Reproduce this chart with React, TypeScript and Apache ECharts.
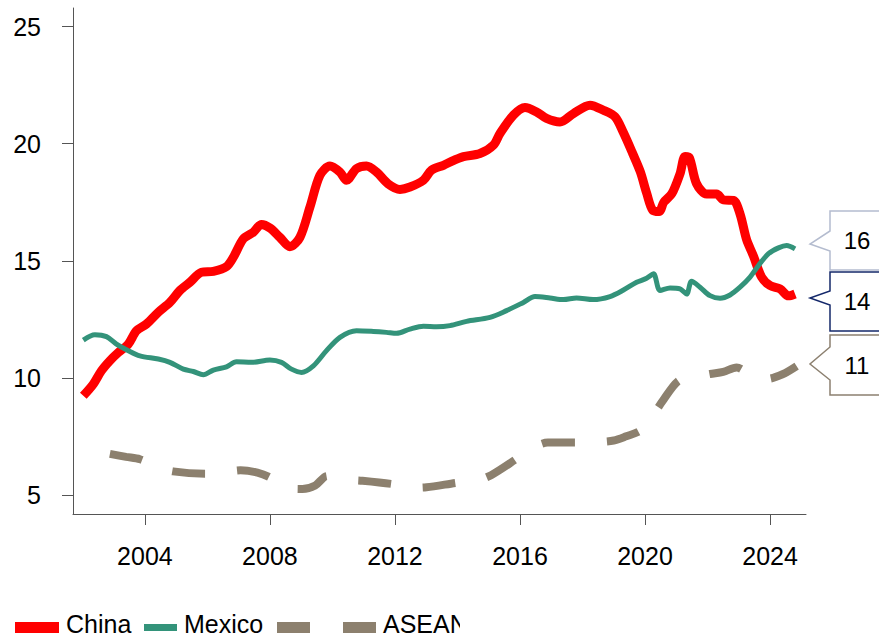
import React, { useEffect, useRef } from "react";
import * as echarts from "echarts";

const xTicks = [2004, 2008, 2012, 2016, 2020, 2024];
const yTicks = [5, 10, 15, 20, 25];

const china: [number, number][] = [
  [2002.03, 9.23], [2002.35, 9.73], [2002.61, 10.3], [2002.88, 10.73], [2003.15, 11.08],
  [2003.47, 11.44], [2003.73, 12.01], [2004.05, 12.3], [2004.43, 12.8], [2004.8, 13.22],
  [2005.12, 13.73], [2005.44, 14.08], [2005.81, 14.51], [2006.19, 14.55], [2006.61, 14.75],
  [2006.83, 15.15], [2007.15, 15.94], [2007.47, 16.22], [2007.73, 16.55], [2008.0, 16.4],
  [2008.32, 16.0], [2008.64, 15.6], [2008.96, 16.0], [2009.28, 17.29], [2009.6, 18.65],
  [2009.92, 19.05], [2010.24, 18.79], [2010.45, 18.44], [2010.77, 18.94], [2011.09, 19.05],
  [2011.41, 18.79], [2011.78, 18.29], [2012.16, 18.05], [2012.48, 18.15], [2012.91, 18.44],
  [2013.17, 18.87], [2013.55, 19.08], [2013.9, 19.3], [2014.19, 19.45], [2014.72, 19.58],
  [2015.15, 19.94], [2015.36, 20.44], [2015.79, 21.22], [2016.16, 21.55], [2016.53, 21.36],
  [2016.85, 21.08], [2017.28, 20.93], [2017.71, 21.29], [2018.24, 21.65], [2018.67, 21.43],
  [2019.04, 21.15], [2019.3, 20.5], [2019.6, 19.6], [2019.85, 18.8], [2020.05, 17.9],
  [2020.25, 17.15], [2020.45, 17.1], [2020.6, 17.5], [2020.86, 17.87], [2021.12, 18.72],
  [2021.28, 19.45], [2021.42, 19.4], [2021.65, 18.29], [2021.97, 17.85], [2022.29, 17.85],
  [2022.51, 17.6], [2022.83, 17.58], [2023.04, 17.0], [2023.25, 15.9], [2023.47, 15.2],
  [2023.73, 14.3], [2024.0, 13.94], [2024.32, 13.8], [2024.59, 13.5], [2024.8, 13.58],
];

const mexico: [number, number][] = [
  [2002.03, 11.61], [2002.4, 11.84], [2002.77, 11.76], [2003.09, 11.44], [2003.47, 11.16],
  [2003.84, 10.94], [2004.43, 10.8], [2004.8, 10.66], [2005.23, 10.37], [2005.55, 10.27],
  [2005.87, 10.13], [2006.19, 10.33], [2006.61, 10.47], [2006.93, 10.69], [2007.41, 10.66],
  [2008.0, 10.76], [2008.37, 10.66], [2008.69, 10.37], [2009.01, 10.23], [2009.39, 10.51],
  [2009.81, 11.16], [2010.24, 11.73], [2010.77, 12.01], [2011.31, 11.98], [2011.73, 11.94],
  [2012.05, 11.9], [2012.48, 12.08], [2012.91, 12.2], [2013.33, 12.18], [2013.76, 12.23],
  [2014.29, 12.41], [2015.04, 12.58], [2015.57, 12.87], [2016.11, 13.22], [2016.48, 13.47],
  [2016.96, 13.41], [2017.39, 13.34], [2017.81, 13.41], [2018.34, 13.34], [2018.88, 13.47],
  [2019.31, 13.75], [2019.73, 14.08], [2020.05, 14.25], [2020.27, 14.44], [2020.48, 13.73],
  [2020.8, 13.84], [2021.12, 13.8], [2021.33, 13.58], [2021.49, 14.12], [2021.76, 13.87],
  [2022.08, 13.51], [2022.4, 13.4], [2022.72, 13.54], [2023.04, 13.87], [2023.36, 14.3],
  [2023.63, 14.8], [2023.95, 15.3], [2024.27, 15.55], [2024.53, 15.65], [2024.8, 15.51],
];

const asean: [number, number][] = [
  [2002.88, 6.75], [2003.4, 6.62], [2003.84, 6.52], [2004.4, 6.2], [2004.9, 6.0],
  [2005.93, 5.9], [2006.5, 5.95], [2007.06, 6.05], [2007.6, 5.95], [2007.99, 5.75],
  [2008.5, 5.3], [2009.04, 5.25], [2009.45, 5.4], [2009.83, 5.8], [2010.4, 5.65],
  [2010.96, 5.6], [2011.97, 5.45], [2012.5, 5.3], [2013.01, 5.32], [2014.0, 5.52],
  [2014.6, 5.6], [2015.09, 5.85], [2015.87, 6.52], [2016.4, 7.0], [2016.89, 7.23],
  [2017.86, 7.23], [2018.4, 7.25], [2019.0, 7.32], [2019.4, 7.5], [2019.86, 7.75],
  [2020.2, 8.3], [2020.56, 9.0], [2021.05, 9.85], [2021.5, 10.0], [2022.08, 10.16],
  [2022.5, 10.25], [2022.93, 10.44], [2023.4, 10.1], [2023.9, 9.95], [2024.4, 10.15],
  [2024.85, 10.5],
];

const callouts = [
  { label: "16", color: "#b4bccf" },
  { label: "14", color: "#14286a" },
  { label: "11", color: "#8c8070" },
];

const FONT = '"Liberation Sans", Arial, sans-serif';
const RED = "#ff0000";
const TEAL = "#33937a";
const BROWN = "#8c806e";

export default function App() {
  const ref = useRef<HTMLDivElement>(null);
  useEffect(() => {
    if (!ref.current) return;
    const chart = echarts.init(ref.current, undefined, { renderer: "svg" });
    const boxes = [
      { top: 211, bottom: 270, a1: 231, tip: 244, a2: 251 },
      { top: 272, bottom: 331, a1: 291, tip: 298, a2: 305 },
      { top: 335, bottom: 395, a1: 347, tip: 364, a2: 380 },
    ];
    const calloutGraphics: any[] = [];
    boxes.forEach((b, i) => {
      calloutGraphics.push({
        type: "polygon",
        shape: {
          points: [
            [890, b.top], [830, b.top], [830, b.a1], [810, b.tip],
            [830, b.a2], [830, b.bottom], [890, b.bottom],
          ],
        },
        style: { fill: "#fff", stroke: callouts[i].color, lineWidth: 1.5 },
        z: 10,
      });
      calloutGraphics.push({
        type: "text",
        x: 857,
        y: (b.top + b.bottom) / 2,
        style: {
          text: callouts[i].label, fill: "#000", fontSize: 24, fontFamily: FONT,
          align: "center", verticalAlign: "middle",
        },
        z: 11,
      });
    });
    const legendY = 624;
    const legendGraphics: any[] = [
      { type: "rect", shape: { x: 15, y: 622, width: 44, height: 11 }, style: { fill: RED } },
      { type: "text", x: 66, y: legendY, style: { text: "China", fill: "#000", fontSize: 25, fontFamily: FONT, verticalAlign: "middle" } },
      { type: "rect", shape: { x: 144, y: 624, width: 33, height: 7 }, style: { fill: TEAL } },
      { type: "text", x: 184, y: legendY, style: { text: "Mexico", fill: "#000", fontSize: 25, fontFamily: FONT, verticalAlign: "middle" } },
      { type: "rect", shape: { x: 277, y: 622, width: 33, height: 11 }, style: { fill: BROWN } },
      { type: "rect", shape: { x: 343, y: 622, width: 33, height: 11 }, style: { fill: BROWN } },
      { type: "text", x: 383, y: legendY, style: { text: "ASEAN", fill: "#000", fontSize: 25, fontFamily: FONT, verticalAlign: "middle" } },
      { type: "rect", shape: { x: 460, y: 605, width: 40, height: 33 }, style: { fill: "#fff" }, z: 5 },
    ];
    chart.setOption({
      animation: false,
      backgroundColor: "#fff",
      grid: { left: 73, right: 73, top: 8, bottom: 124, containLabel: false },
      xAxis: {
        type: "value",
        min: 2001.7,
        max: 2025.15,
        axisLine: { show: true, lineStyle: { color: "#555", width: 1 } },
        axisTick: { show: true, customValues: xTicks, length: 11, lineStyle: { color: "#555" } },
        axisLabel: {
          customValues: xTicks, fontSize: 25, color: "#000", fontFamily: FONT, margin: 29,
          formatter: (v: number) => String(Math.round(v)),
        },
        splitLine: { show: false },
      },
      yAxis: {
        type: "value",
        min: 4.18,
        max: 25.8,
        axisLine: { show: true, lineStyle: { color: "#555", width: 1 } },
        axisTick: { show: true, customValues: yTicks, length: 11, lineStyle: { color: "#555" } },
        axisLabel: {
          customValues: yTicks, fontSize: 25, color: "#000", fontFamily: FONT, margin: 32,
          formatter: (v: number) => String(Math.round(v)),
        },
        splitLine: { show: false },
      },
      series: [
        {
          name: "ASEAN", type: "line", data: asean, showSymbol: false, smooth: 0.3,
          lineStyle: { color: BROWN, width: 8, type: [33, 32], cap: "butt" }, z: 2,
        },
        {
          name: "China", type: "line", data: china, showSymbol: false, smooth: 0.3,
          lineStyle: { color: RED, width: 9, cap: "butt" }, z: 3,
        },
        {
          name: "Mexico", type: "line", data: mexico, showSymbol: false, smooth: 0.3,
          lineStyle: { color: TEAL, width: 5 }, z: 4,
        },
      ],
      graphic: [...calloutGraphics, ...legendGraphics],
    });
    return () => chart.dispose();
  }, []);
  return <div ref={ref} style={{ width: 879, height: 638, position: "absolute", left: 0, top: 0 }} />;
}
